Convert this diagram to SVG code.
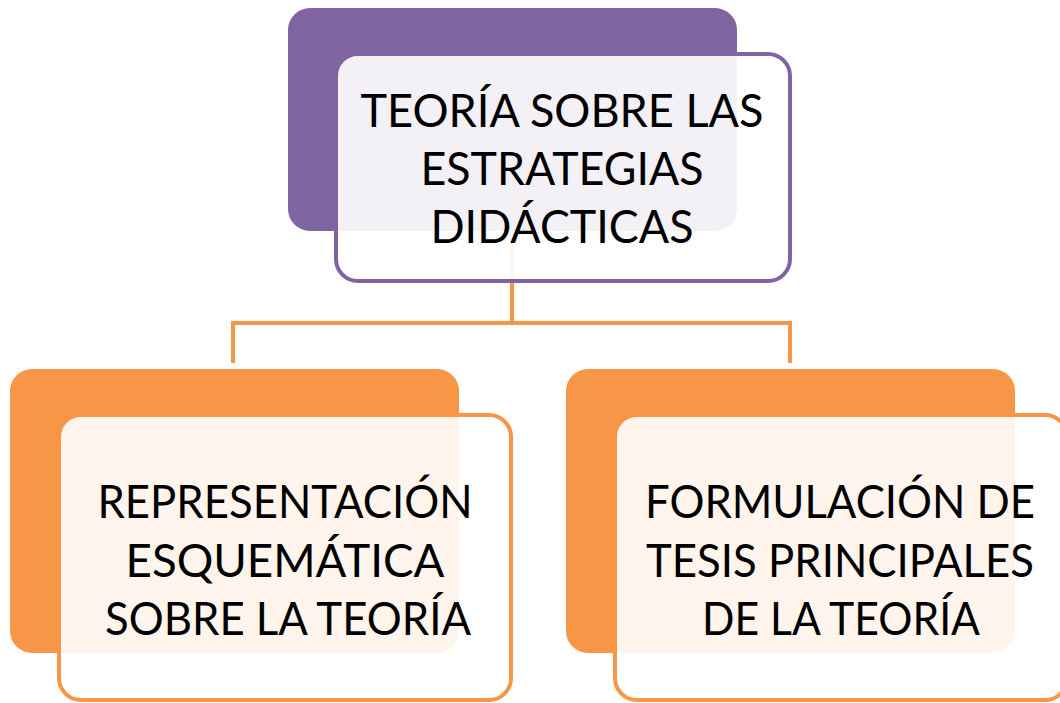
<svg xmlns="http://www.w3.org/2000/svg" width="1060" height="703" viewBox="0 0 1060 703">
<style>
.back-p{fill:#8064A2}
.back-o{fill:#F79646}
.front{fill:#FFFFFF;fill-opacity:0.9;stroke-width:4}
.front-p{stroke:#8064A2}
.front-o{stroke:#F79646}
.conn{fill:none;stroke:#F79646;stroke-width:4}
text{font-family:Lato,"Open Sans","Liberation Sans",sans-serif;font-size:47px;fill:#000;text-anchor:middle}
</style>
<rect width="1060" height="703" fill="#FFFFFF"/>
<g id="connectors">
<path class="conn" d="M512,200 V323"/>
<path class="conn" d="M233,363 V323 H790 V363"/>
</g>
<g id="node-top">
<rect class="back-p" x="288" y="8" width="449" height="223" rx="22"/>
<rect class="front front-p" x="336" y="54" width="454" height="227" rx="22"/>
<text x="562" y="127" textLength="403" lengthAdjust="spacingAndGlyphs">TEORÍA SOBRE LAS</text>
<text x="562" y="185" textLength="283" lengthAdjust="spacingAndGlyphs">ESTRATEGIAS</text>
<text x="562" y="243" textLength="263" lengthAdjust="spacingAndGlyphs">DIDÁCTICAS</text>
</g>
<g id="node-left">
<rect class="back-o" x="10" y="369" width="449" height="284" rx="22"/>
<rect class="front front-o" x="59" y="415" width="452" height="285" rx="22"/>
<text x="285" y="518" textLength="375" lengthAdjust="spacingAndGlyphs">REPRESENTACIÓN</text>
<text x="285" y="577" textLength="319" lengthAdjust="spacingAndGlyphs">ESQUEMÁTICA</text>
<text x="288" y="635" textLength="366" lengthAdjust="spacingAndGlyphs">SOBRE LA TEORÍA</text>
</g>
<g id="node-right">
<rect class="back-o" x="566" y="369" width="449" height="284" rx="22"/>
<rect class="front front-o" x="615" y="415" width="452" height="285" rx="22"/>
<text x="840" y="518" textLength="390" lengthAdjust="spacingAndGlyphs">FORMULACIÓN DE</text>
<text x="840" y="577" textLength="388" lengthAdjust="spacingAndGlyphs">TESIS PRINCIPALES</text>
<text x="841" y="635" textLength="278" lengthAdjust="spacingAndGlyphs">DE LA TEORÍA</text>
</g>
</svg>
